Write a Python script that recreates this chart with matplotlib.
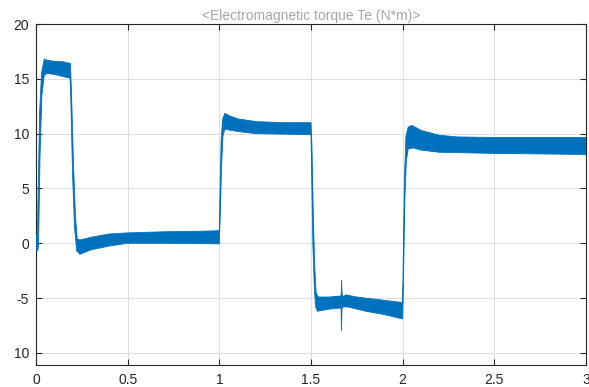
import matplotlib
matplotlib.use('Agg')
import matplotlib.pyplot as plt

# ===============
# Data (upper / lower envelope of the ripple band)
# ===============
title_text = '<Electromagnetic torque Te (N*m)>'

t_upper = [0, 0.008, 0.012, 0.02, 0.03, 0.045, 0.06, 0.1, 0.15, 0.188,
           0.195, 0.205, 0.215, 0.225, 0.24, 0.3, 0.4, 0.5, 0.7, 0.9, 1.0,
           1.004, 1.01, 1.018, 1.03, 1.06, 1.1, 1.2, 1.35, 1.5,
           1.505, 1.512, 1.52, 1.528, 1.54, 1.6, 1.664, 1.667, 1.669, 1.675,
           1.69, 1.75, 1.85, 1.95, 2.0,
           2.004, 2.01, 2.018, 2.03, 2.05, 2.1, 2.2, 2.3, 2.5, 3.0]
te_upper = [0.8, 0.8, 5, 12, 15.5, 16.8, 16.7, 16.6, 16.55, 16.4,
            13, 7, 2.5, 0.4, 0.3, 0.55, 0.85, 0.95, 1.05, 1.1, 1.15,
            5, 9.5, 11.3, 11.85, 11.6, 11.35, 11.1, 11.0, 11.0,
            9, 3, -2, -4.5, -4.9, -4.9, -4.8, -3.4, -4.5, -4.9,
            -4.7, -4.9, -5.1, -5.3, -5.4,
            0, 6, 9.8, 10.6, 10.75, 10.3, 9.85, 9.7, 9.65, 9.65]

t_lower = [0, 0.01, 0.014, 0.022, 0.032, 0.045, 0.06, 0.1, 0.15, 0.186,
           0.19, 0.2, 0.21, 0.222, 0.24, 0.3, 0.4, 0.5, 0.7, 1.0,
           1.006, 1.012, 1.02, 1.03, 1.1, 1.2, 1.5,
           1.504, 1.51, 1.518, 1.525, 1.535, 1.6, 1.664, 1.666, 1.669, 1.675,
           1.7, 1.8, 1.9, 2.0,
           2.006, 2.012, 2.02, 2.03, 2.06, 2.1, 2.2, 2.5, 3.0]
te_lower = [-0.7, -0.7, 0, 8, 13.5, 15.3, 15.5, 15.4, 15.2, 15.05,
            13, 6, 1.5, -0.7, -1.0, -0.6, -0.25, 0.0, 0.0, -0.05,
            3, 7, 9.8, 10.4, 10.2, 10.0, 9.9,
            6, 0, -4, -5.8, -6.2, -6.0, -5.9, -8.0, -6.0, -5.8,
            -5.8, -6.2, -6.5, -6.9,
            -2, 4, 7.5, 8.6, 8.7, 8.5, 8.3, 8.2, 8.1]

yticks = [-10, -5, 0, 5, 10, 15, 20]
ytick_labels = ['10', '-5', '0', '5', '10', '15', '20']
xticks = [0, 0.5, 1, 1.5, 2, 2.5, 3]
xtick_labels = ['0', '0.5', '1', '1.5', '2', '2.5', '3']

# ===============
# Plotting graph
# ===============
plt.rcParams['font.family'] = ['Liberation Sans', 'DejaVu Sans']
plt.rcParams['axes.unicode_minus'] = False

fig = plt.figure(figsize=(5.89, 3.87), dpi=100)
ax = fig.add_axes([36 / 589, 1 - 365 / 387, 550 / 589, 341 / 387])

band_x = t_upper + t_lower[::-1]
band_y = te_upper + te_lower[::-1]
ax.fill(band_x, band_y, color='#0072BD', linewidth=0.6, edgecolor='#0072BD', zorder=3)

ax.set_xlim(0, 3)
ax.set_ylim(-11.1, 20)
ax.set_xticks(xticks)
ax.set_xticklabels(xtick_labels)
ax.set_yticks(yticks)
ax.set_yticklabels(ytick_labels)

ax.grid(True, color='#dedede', linewidth=0.7)
ax.set_axisbelow(True)
ax.tick_params(direction='in', length=4, width=0.8, colors='#262626',
               labelsize=10, top=True, right=True)
ax.tick_params(axis='x', pad=6)
ax.tick_params(axis='y', pad=5)
for s in ax.spines.values():
    s.set_color('#262626')
    s.set_linewidth(0.8)

ax.set_title(title_text, color='#a6a6a6', fontsize=10, pad=3)

fig.savefig('out.png', dpi=100)
